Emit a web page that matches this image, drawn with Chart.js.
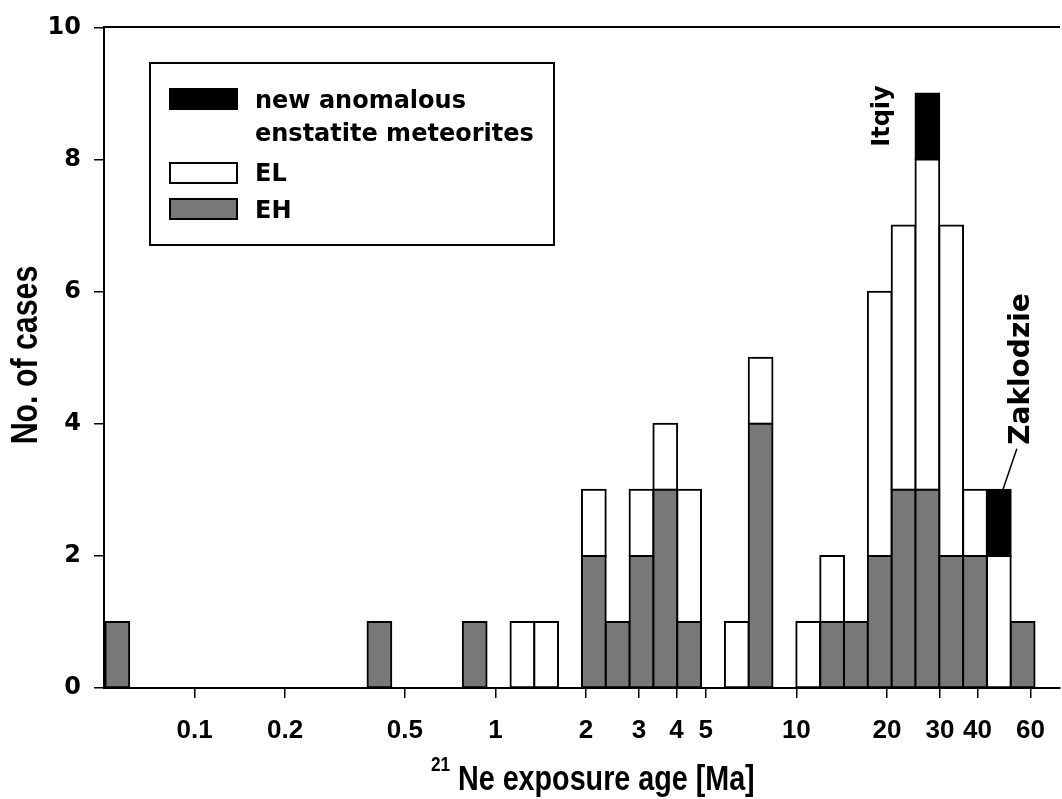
<!DOCTYPE html>
<html>
<head>
<meta charset="utf-8">
<script src="https://cdn.jsdelivr.net/npm/chart.js@4.4.1/dist/chart.umd.min.js"></script>
<style>
  html, body { margin: 0; padding: 0; background: #fff; }
  canvas { display: block; }
</style>
</head>
<body>
<canvas id="neChart" width="1062" height="799"></canvas>
<script>
// bin centres in Ma (log bins, each 1.2x wider than the previous one)
const binAges   = [0.05538, 0.4115, 0.8532, 1.229, 1.474, 2.123, 2.548, 3.057, 3.668, 4.402, 6.339, 7.607,
                   10.95, 13.15, 15.77, 18.93, 22.72, 27.26, 32.71, 39.25, 47.10, 56.53];
const ehCounts  = [1, 1, 1, 0, 0, 2, 1, 2, 3, 1, 0, 4, 0, 1, 1, 2, 3, 3, 2, 2, 0, 1];
const elCounts  = [0, 0, 0, 1, 1, 1, 0, 1, 1, 2, 1, 1, 1, 1, 0, 4, 4, 5, 5, 1, 2, 0];
const newCounts = [0, 0, 0, 0, 0, 0, 0, 0, 0, 0, 0, 0, 0, 0, 0, 0, 0, 1, 0, 0, 1, 0];
const xTicks = [0.1, 0.2, 0.5, 1, 2, 3, 4, 5, 10, 20, 30, 40, 60];
const seriesLabels = ['EH', 'EL', 'new anomalous\nenstatite meteorites'];
const seriesColors = ['#787878', '#ffffff', '#000000'];
const namedMeteorites = [{ name: 'Itqiy', age: 27.26 }, { name: 'Zaklodzie', age: 47.10 }];

const WIDE = '"DejaVu Sans", Verdana, sans-serif';
const ARIAL = '"Liberation Sans", Arial, sans-serif';

function toPoints(counts) {
    return binAges.map((a, i) => ({ x: a, y: counts[i] })).filter(p => p.y > 0);
}

// narrow bold text: no Arial Narrow here, so squeeze Liberation Sans sideways
function narrowText(ctx, text, x, y, size, angle) {
    ctx.save();
    ctx.translate(x, y);
    ctx.rotate(angle || 0);
    ctx.scale(0.82, 1);
    ctx.font = 'bold ' + size + 'px ' + ARIAL;
    ctx.fillText(text, 0, 0);
    ctx.restore();
}

// legend box, axis titles, labels of the two named meteorites
const extras = {
    id: 'extras',
    afterDraw(chart) {
        const ctx = chart.ctx;
        const xs = chart.scales.x, ys = chart.scales.y;
        ctx.save();
        ctx.fillStyle = '#000';
        ctx.strokeStyle = '#000';

        // legend
        ctx.lineWidth = 2;
        ctx.strokeRect(150, 63, 404, 182);
        const rows = [
            { ds: 2, top: 89, base: [108, 141] },
            { ds: 1, top: 163, base: [181] },
            { ds: 0, top: 199, base: [218] }
        ];
        ctx.font = 'bold 24px ' + WIDE;
        ctx.textBaseline = 'alphabetic';
        ctx.textAlign = 'left';
        rows.forEach(r => {
            const d = chart.data.datasets[r.ds];
            ctx.fillStyle = d.backgroundColor;
            ctx.fillRect(170, r.top, 67, 20);
            ctx.lineWidth = 2;
            ctx.strokeRect(170, r.top, 67, 20);
            ctx.fillStyle = '#000';
            d.label.split('\n').forEach((line, k) => ctx.fillText(line, 255, r.base[k]));
        });

        // x axis title with superscript
        narrowText(ctx, 'Ne exposure age [Ma]', 458, 790, 35);
        narrowText(ctx, '21', 431, 771, 21);

        // y axis title
        ctx.textAlign = 'center';
        ctx.textBaseline = 'middle';
        narrowText(ctx, 'No. of cases', 27, 355, 37, -Math.PI / 2);

        // Itqiy
        let px = xs.getPixelForValue(namedMeteorites[0].age);
        ctx.save();
        ctx.translate(px - 45, 116);
        ctx.rotate(-Math.PI / 2);
        ctx.font = 'bold 24px ' + WIDE;
        ctx.textAlign = 'center';
        ctx.textBaseline = 'middle';
        ctx.fillText(namedMeteorites[0].name, 0, 0);
        ctx.restore();

        // Zaklodzie with leader line
        px = xs.getPixelForValue(namedMeteorites[1].age);
        const topY = ys.getPixelForValue(3);
        ctx.save();
        ctx.translate(px + 23, topY - 45);
        ctx.rotate(-Math.PI / 2);
        ctx.font = 'bold 28px ' + WIDE;
        ctx.textAlign = 'left';
        ctx.textBaseline = 'middle';
        ctx.fillText(namedMeteorites[1].name, 0, 0);
        ctx.restore();
        ctx.lineWidth = 1.5;
        ctx.beginPath();
        ctx.moveTo(px + 4, topY);
        ctx.lineTo(px + 18, topY - 41);
        ctx.stroke();

        ctx.restore();
    }
};

const ctx = document.getElementById('neChart').getContext('2d');

const myChart = new Chart(ctx, {
    type: 'bar',
    data: {
        datasets: [ehCounts, elCounts, newCounts].map((counts, i) => ({
            label: seriesLabels[i],
            data: toPoints(counts),
            backgroundColor: seriesColors[i],
            borderColor: '#000',
            borderWidth: 2,
            borderSkipped: false,
            inflateAmount: 1,
            stack: 'all',
            barPercentage: 1,
            categoryPercentage: 1
        }))
    },
    options: {
        responsive: false,
        animation: false,
        layout: { padding: { top: 18, right: 0, left: 0, bottom: 0 } },
        plugins: {
            legend: { display: false },
            tooltip: { enabled: false }
        },
        scales: {
            x: {
                type: 'logarithmic',
                min: 0.05,
                max: 75,
                offset: false,
                afterBuildTicks: s => { s.ticks = xTicks.map(v => ({ value: v })); },
                afterFit: s => { s.height = 111; },
                ticks: {
                    autoSkip: false,
                    maxRotation: 0,
                    padding: 17,
                    color: '#000',
                    font: { family: ARIAL, size: 26, weight: 'bold' },
                    callback: v => String(v)
                },
                grid: { offset: false, drawOnChartArea: false, drawTicks: true, tickLength: 10, color: '#000', lineWidth: 1.5 },
                border: { display: true, color: '#000', width: 2 }
            },
            x2: {
                type: 'linear',
                position: 'top',
                ticks: { display: false },
                grid: { display: false, drawTicks: false },
                border: { display: true, color: '#000', width: 2 },
                afterFit: s => { s.height = 0; }
            },
            y: {
                stacked: true,
                min: 0,
                max: 10,
                afterFit: s => { s.width = 104; },
                ticks: {
                    stepSize: 2,
                    padding: 13,
                    color: '#000',
                    font: { family: WIDE, size: 24, weight: 'bold' }
                },
                grid: { drawOnChartArea: false, drawTicks: true, tickLength: 10, color: '#000', lineWidth: 1.5 },
                border: { display: true, color: '#000', width: 2 }
            }
        }
    },
    plugins: [extras]
});
</script>
</body>
</html>
